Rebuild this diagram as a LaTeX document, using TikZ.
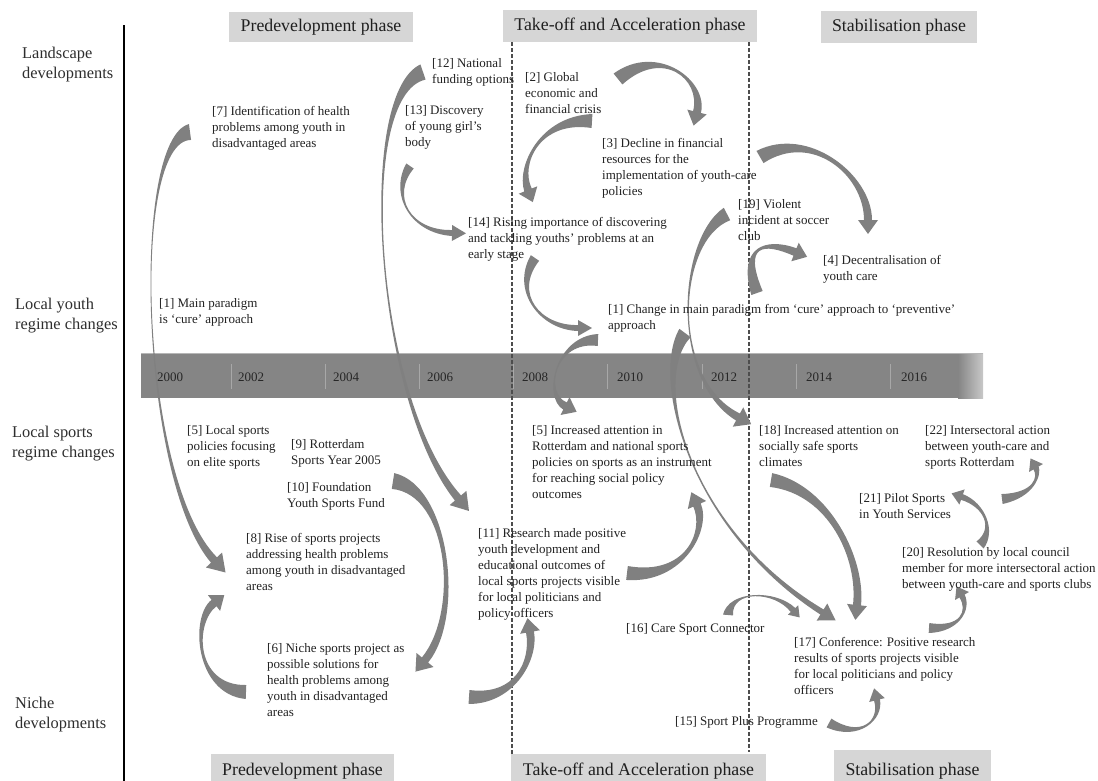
\documentclass[tikz,border=0pt]{standalone}
\usepackage{fontspec}
\setmainfont{Liberation Serif}
\usetikzlibrary{calc}
\definecolor{txtc}{HTML}{222222}
\definecolor{lblc}{HTML}{2E2E2E}
\definecolor{boxc}{HTML}{D6D6D6}
\definecolor{barc}{HTML}{858585}
\definecolor{sepc}{HTML}{A8A8A8}
\definecolor{arrg}{HTML}{808080}
\definecolor{arrd}{HTML}{727272}
\definecolor{arrl}{HTML}{939393}
\definecolor{dashc}{HTML}{4D4D4D}
\pgfkeys{/carr/.cd, a/.store in=\carA, b/.store in=\carB, w/.store in=\carW, H/.store in=\carH, L/.store in=\carL, c/.store in=\carC}
% curved tapered block arrow: tail, control 1, control 2, head base
\newcommand{\carr}[5][]{%
 \pgfkeys{/carr/.cd,a=6,b=4,w=0,H=10,L=14,c=arrg,#1}%
 \fill[fill=\carC] ($#2!\carA pt!90:#3$) .. controls ($#3!\carW pt!-90:#2$) and ($#4!\carW pt!90:#5$) .. ($#5!\carB pt!-90:#4$) -- ($#5!\carH pt!-90:#4$) -- ($#5!-\carL pt!#4$) -- ($#5!\carH pt!90:#4$) -- ($#5!\carB pt!90:#4$) .. controls ($#4!\carW pt!-90:#5$) and ($#3!\carW pt!90:#2$) .. ($#2!\carA pt!-90:#3$) -- cycle;}
\newcommand{\btext}[4]{\node[btx] (#1) at (#2,#3-6.9) {\strut #4};}
\newcommand{\sidelbl}[4]{\node[slbl] (#1) at (#2,#3-8.3) {\strut #4};}
\begin{document}
\begin{tikzpicture}[x=1pt,y=-1pt,
  btx/.style={anchor=north west, inner sep=0pt, align=left, font=\fontsize{13}{16}\selectfont, text=txtc},
  slbl/.style={anchor=north west, inner sep=0pt, align=left, font=\fontsize{16.4}{19.5}\selectfont, text=lblc},
  phase/.style={fill=boxc, inner sep=0pt, font=\fontsize{17.8}{20}\selectfont, text=black!88},
  yr/.style={anchor=west, inner sep=0pt, font=\fontsize{13}{15}\selectfont, text=black!85},
  dashl/.style={dashc, line width=1.3pt, dash pattern=on 4pt off 2pt}]
\useasboundingbox (0,0) rectangle (1098,780);
\fill[white] (0,0) rectangle (1098,780);

% axis line
\draw[line width=2.5pt, black] (124,25) -- (124,782);

% timeline bar
\fill[barc] (141,353) rectangle (958,398);
\shade[left color=barc, right color=barc!45] (958,353) rectangle (983,398);
\draw[barc!60, line width=0.8pt] (141,353.4) -- (983,353.4);
\foreach \x in {231,325,419,513,607,702,796,890} \draw[sepc, line width=0.9pt] (\x,364) -- (\x,389);
\node[yr] (y2000) at (157,377) {2000};
\node[yr] (y2002) at (238,377) {2002};
\node[yr] (y2004) at (333,377) {2004};
\node[yr] (y2006) at (427,377) {2006};
\node[yr] (y2008) at (522,377) {2008};
\node[yr] (y2010) at (617,377) {2010};
\node[yr] (y2012) at (711,377) {2012};
\node[yr] (y2014) at (806,377) {2014};
\node[yr] (y2016) at (901,377) {2016};

% phase separators
\draw[dashl] (512,42) -- (512,754);
\draw[dashl] (749,42) -- (749,752);

% phase boxes
\node[phase, minimum width=184pt, minimum height=30pt] (ph1) at (321,27) {Predevelopment phase};
\node[phase, minimum width=254pt, minimum height=32pt] (ph2) at (630,26) {Take-off and Acceleration phase};
\node[phase, minimum width=156pt, minimum height=32pt] (ph3) at (899,27) {Stabilisation phase};
\node[phase, minimum width=183pt, minimum height=34pt] (ph4) at (302.5,771) {Predevelopment phase};
\node[phase, minimum width=255pt, minimum height=34pt] (ph5) at (638.5,771) {Take-off and Acceleration phase};
\node[phase, minimum width=157pt, minimum height=42pt] (ph6) at (912.5,771) {Stabilisation phase};

% side labels
\sidelbl{l1}{22}{53}{Landscape\\developments}
\sidelbl{l2}{15}{304}{Local youth\\regime changes}
\sidelbl{l3}{12}{432}{Local sports\\regime changes}
\sidelbl{l4}{15}{703}{Niche\\developments}

% arrows
\carr[a=8,b=4,H=11,L=17]{(190,132)}{(130,140)}{(140,480)}{(214,560)}
\carr[a=8,b=4,H=11,L=17]{(423,72)}{(355,95)}{(375,400)}{(458,498)}
\carr[a=4.5,b=3,w=1,H=8,L=14]{(410,166)}{(390,195)}{(410,232)}{(452,233)}
\carr[a=7,b=4,w=2,H=10,L=13]{(592,121)}{(540,118)}{(518,165)}{(528,190)}
\carr[a=7,b=4,w=4,H=10,L=14]{(618,79)}{(660,45)}{(705,80)}{(697,112)}
\carr[a=7,b=4,w=4,H=10,L=14]{(760,157)}{(810,128)}{(868,175)}{(868,220)}
\carr[a=6,b=4,w=3,H=10,L=13]{(757,293)}{(740,245)}{(765,240)}{(795,252)}
\carr[a=7,b=4,H=11,L=15]{(727,214)}{(677,240)}{(670,380)}{(738,417)}
\carr[a=5,b=3,w=2,H=8,L=14]{(535,258)}{(512,292)}{(540,328)}{(578,328)}
\carr[a=6,b=4,w=2,H=10,L=13]{(598,340)}{(555,338)}{(543,395)}{(565,406)}
\carr[a=7,b=3,H=10,L=16]{(685,333)}{(650,380)}{(690,530)}{(822,612)}
\carr[a=8,b=4,w=4,H=11,L=15]{(393,481)}{(450,490)}{(462,615)}{(425,660)}
\carr[a=7,b=4,w=4,H=10,L=13]{(246,692)}{(195,690)}{(192,620)}{(214,603)}
\carr[a=7,b=4,w=4,H=10,L=14]{(469,697)}{(515,700)}{(535,660)}{(530,632)}
\carr[a=7,b=4,w=4,H=10,L=14]{(627,573)}{(685,580)}{(708,530)}{(697,505)}
\carr[a=7,b=4,w=4,H=10,L=15]{(771,480)}{(830,490)}{(862,560)}{(857,605)}
\carr[a=5,b=3,w=1,H=7,L=10]{(728,615)}{(730,590)}{(775,590)}{(793,610)}
\carr[a=5,b=3,w=2,H=8,L=12]{(829,723)}{(860,740)}{(882,720)}{(877,700)}
\carr[a=5,b=3,w=2,H=8,L=11]{(929,628)}{(960,630)}{(970,610)}{(962,596)}
\carr[a=5,b=3,w=2,H=8,L=11]{(980,545)}{(995,530)}{(985,505)}{(962,497)}
\carr[a=5,b=3,w=2,H=8,L=11]{(1002,499)}{(1035,495)}{(1040,475)}{(1036,468)}

% texts
\btext{n12}{432}{63}{[12] National\\funding options}
\btext{n2}{525}{77}{[2] Global\\economic and\\financial crisis}
\btext{n7}{212}{111}{[7] Identification of health\\problems among youth in\\disadvantaged areas}
\btext{n13}{405}{110}{[13] Discovery\\of young girl’s\\body}
\btext{n3}{602}{143}{[3] Decline in financial\\resources for the\\implementation of youth-care\\policies}
\btext{n19}{738}{204}{[19] Violent\\incident at soccer\\club}
\btext{n14}{468}{222}{[14] Rising importance of discovering\\and tackling youths’ problems at an\\early stage}
\btext{n4}{823}{260}{[4] Decentralisation of\\youth care}
\btext{n1a}{159}{303}{[1] Main paradigm\\is ‘cure’ approach}
\btext{n1b}{608}{309}{[1] Change in main paradigm from ‘cure’ approach to ‘preventive’\\approach}
\btext{n5a}{187}{430}{[5] Local sports\\policies focusing\\on elite sports}
\btext{n9}{291}{444}{[9] Rotterdam\\Sports Year 2005}
\btext{n10}{287}{487}{[10] Foundation\\Youth Sports Fund}
\btext{n8}{246}{538}{[8] Rise of sports projects\\addressing health problems\\among youth in disadvantaged\\areas}
\btext{n6}{267}{648}{[6] Niche sports project as\\possible solutions for\\health problems among\\youth in disadvantaged\\areas}
\btext{n5b}{532}{430}{[5] Increased attention in\\Rotterdam and national sports\\policies on sports as an instrument\\for reaching social policy\\outcomes}
\btext{n11}{478}{533}{[11] Research made positive\\youth development and\\educational outcomes of\\local sports projects visible\\for local politicians and\\policy officers}
\btext{n16}{626}{628}{[16] Care Sport Connector}
\btext{n18}{759}{430}{[18] Increased attention on\\socially safe sports\\climates}
\btext{n22}{925}{430}{[22] Intersectoral action\\between youth-care and\\sports Rotterdam}
\btext{n21}{859}{498}{[21] Pilot Sports\\in Youth Services}
\btext{n20}{902}{552}{[20] Resolution by local council\\member for more intersectoral action\\between youth-care and sports clubs}
\btext{n17}{794}{642}{[17] Conference: Positive research\\results of sports projects visible\\for local politicians and policy\\officers}
\btext{n15}{675}{721}{[15] Sport Plus Programme}
\end{tikzpicture}
\end{document}
